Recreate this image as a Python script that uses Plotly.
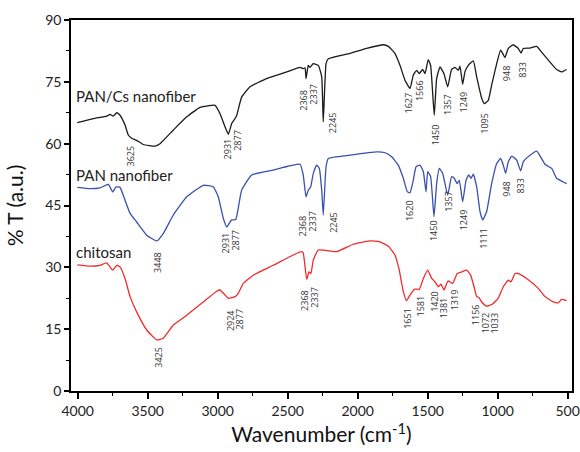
import plotly.graph_objects as go

# ---------------- data ----------------
pancs_wn = [4003, 3889, 3793, 3769, 3746, 3721, 3698, 3662, 3639, 3614, 3579, 3531, 3448, 3412,
            3317, 3221, 3126, 3019, 2984, 2948, 2924, 2900, 2876, 2864, 2829, 2769, 2650, 2507,
            2412, 2389, 2376, 2369, 2353, 2341, 2317, 2281, 2257, 2246, 2226, 2210, 2055, 1936,
            1817, 1781, 1734, 1698, 1662, 1626, 1603, 1579, 1560, 1536, 1519, 1496, 1479, 1453,
            1436, 1412, 1384, 1357, 1329, 1305, 1281, 1269, 1250, 1234, 1210, 1174, 1150, 1114,
            1095, 1067, 1043, 1007, 979, 964, 948, 924, 889, 853, 833, 817, 769, 721, 686, 626,
            579, 543, 507]
pancs_t = [65.1, 66.1, 66.7, 67.1, 66.7, 67.5, 66.9, 64.5, 62.1, 61.3, 60.8, 59.8, 59.4, 60.0,
           63.3, 66.5, 68.8, 69.3, 67.3, 64.1, 62.3, 64.9, 66.1, 66.9, 71.3, 73.8, 75.8, 77.4,
           78.5, 78.2, 78.4, 75.8, 79.0, 78.5, 79.4, 79.0, 76.2, 65.3, 79.4, 80.6, 81.9, 83.1,
           84.0, 83.6, 81.9, 79.0, 75.4, 73.4, 76.6, 77.8, 77.0, 78.0, 77.0, 80.4, 79.0, 66.9,
           75.8, 78.6, 77.0, 73.8, 78.0, 78.5, 77.8, 78.8, 74.4, 77.4, 79.0, 80.1, 76.2, 71.0,
           69.7, 70.5, 74.2, 79.4, 82.7, 81.9, 80.9, 83.1, 84.0, 83.1, 82.0, 83.1, 83.2, 83.6,
           82.2, 79.8, 78.0, 77.4, 78.0]

pan_wn = [4003, 3912, 3841, 3781, 3750, 3726, 3698, 3662, 3626, 3579, 3507, 3436, 3389, 3317,
          3221, 3103, 3031, 2996, 2960, 2936, 2900, 2871, 2829, 2757, 2603, 2412, 2389, 2369,
          2353, 2336, 2317, 2293, 2274, 2257, 2246, 2226, 2210, 2055, 1864, 1804, 1757, 1710,
          1674, 1645, 1626, 1603, 1583, 1555, 1531, 1512, 1500, 1479, 1455, 1436, 1417, 1393,
          1357, 1329, 1310, 1289, 1274, 1250, 1226, 1207, 1190, 1174, 1150, 1126, 1107, 1079,
          1043, 1007, 979, 960, 943, 924, 900, 864, 836, 817, 769, 721, 693, 662, 614, 579,
          531, 507]
pan_t = [49.4, 49.1, 49.3, 50.1, 48.3, 49.5, 49.4, 46.3, 43.1, 41.0, 37.8, 36.4, 38.2, 42.7,
         47.1, 49.9, 49.5, 47.1, 41.9, 39.8, 41.5, 41.6, 48.7, 52.4, 53.6, 55.0, 52.4, 47.1,
         48.7, 49.5, 52.8, 54.8, 54.0, 48.7, 42.7, 54.4, 56.4, 57.2, 58.0, 57.8, 56.8, 54.8,
         51.6, 48.3, 48.1, 51.1, 54.4, 54.8, 53.2, 48.3, 53.2, 52.0, 42.3, 50.3, 54.0, 52.8,
         47.5, 52.0, 51.6, 50.3, 51.1, 45.9, 51.1, 52.4, 51.6, 52.6, 49.5, 43.5, 41.5, 43.5,
         50.3, 55.2, 56.4, 54.8, 52.8, 55.6, 57.0, 56.0, 53.4, 55.6, 57.2, 58.2, 56.8, 55.0,
         54.0, 51.6, 50.7, 50.3]

chi_wn = [4003, 3912, 3841, 3793, 3750, 3721, 3698, 3662, 3626, 3579, 3507, 3436, 3389, 3317,
          3221, 3103, 3007, 2984, 2948, 2924, 2876, 2853, 2817, 2746, 2603, 2460, 2400, 2389,
          2364, 2348, 2334, 2317, 2281, 2150, 2031, 1912, 1841, 1781, 1734, 1703, 1674, 1651,
          1626, 1591, 1560, 1531, 1500, 1471, 1448, 1424, 1405, 1384, 1354, 1321, 1289, 1257,
          1221, 1193, 1169, 1150, 1134, 1114, 1079, 1036, 996, 960, 924, 905, 876, 853, 793,
          710, 662, 602, 567, 543, 507]
chi_t = [30.6, 30.3, 30.5, 31.1, 29.3, 30.5, 30.1, 27.3, 22.9, 19.2, 14.8, 12.4, 12.8, 16.0,
         18.4, 21.6, 24.2, 24.5, 23.3, 22.5, 22.9, 23.7, 26.1, 28.1, 30.5, 33.0, 33.8, 33.5,
         27.1, 28.9, 28.5, 31.8, 34.2, 33.8, 35.6, 36.4, 36.2, 35.1, 33.0, 29.3, 24.1, 21.9,
         23.3, 24.7, 24.7, 27.3, 29.3, 27.3, 26.5, 25.3, 25.9, 24.5, 26.7, 26.1, 28.5, 28.9,
         29.3, 28.1, 25.3, 22.9, 22.7, 21.6, 20.6, 21.1, 22.5, 25.3, 26.9, 26.5, 28.5, 28.5,
         27.3, 24.9, 22.9, 21.6, 21.4, 22.2, 21.9]

# peak labels: (text, wavenumber position, top of label in %T)
pancs_peaks = ["3625", "2931", "2877", "2368", "2337", "2245", "1627", "1566", "1450",
               "1357", "1249", "1095", "948", "833"]
pancs_pk_x = [3621, 2929, 2860, 2393, 2317, 2181, 1634, 1562, 1448, 1357, 1246, 1091, 941, 821]
pancs_pk_y = [60.1, 61.8, 63.8, 73.6, 75.0, 68.1, 73.0, 75.8, 65.3, 72.6, 73.1, 68.1, 79.4, 80.2]

pan_peaks = ["3448", "2931", "2877", "2368", "2337", "2245", "1620", "1450", "1357",
             "1249", "1111", "948", "833"]
pan_pk_x = [3431, 2943, 2871, 2393, 2321, 2174, 1626, 1453, 1357, 1246, 1103, 943, 833]
pan_pk_y = [34.2, 39.0, 39.7, 43.1, 44.3, 43.9, 46.7, 41.9, 49.1, 44.5, 40.0, 51.3, 51.9]

chi_peaks = ["3425", "2924", "2877", "2368", "2337", "1651", "1581", "1420", "1381",
             "1319", "1156", "1072", "1033"]
chi_pk_x = [3424, 2912, 2841, 2376, 2305, 1646, 1550, 1448, 1384, 1310, 1157, 1086, 1019]
chi_pk_y = [11.2, 20.0, 20.6, 24.9, 25.9, 20.6, 23.7, 24.9, 23.3, 25.1, 21.6, 19.6, 19.4]

series_names = ["PAN/Cs nanofiber", "PAN nanofiber", "chitosan"]
series_label_y = [71.5, 52.5, 33.8]
series_colors = ["#1a1a1a", "#3b4fae", "#f22a2a"]

x_tickvals = [4000, 3500, 3000, 2500, 2000, 1500, 1000, 500]
y_tickvals = [0, 15, 30, 45, 60, 75, 90]

# ---------------- figure ----------------
fig = go.Figure()
for wn, t, c in [(pancs_wn, pancs_t, series_colors[0]),
                 (pan_wn, pan_t, series_colors[1]),
                 (chi_wn, chi_t, series_colors[2])]:
    fig.add_trace(go.Scatter(x=wn, y=t, mode="lines",
                             line=dict(color=c, width=1.3, shape="spline", smoothing=0.4),
                             showlegend=False, hoverinfo="skip"))

annotations = []
for names, xs, ys in [(pancs_peaks, pancs_pk_x, pancs_pk_y),
                      (pan_peaks, pan_pk_x, pan_pk_y),
                      (chi_peaks, chi_pk_x, chi_pk_y)]:
    for n, x, y in zip(names, xs, ys):
        annotations.append(dict(x=x, y=y, xref="x", yref="y", text=n, showarrow=False,
                                textangle=-90, xanchor="center", yanchor="top",
                                font=dict(family="Open Sans", size=9, color="#333333")))

for name, y in zip(series_names, series_label_y):
    annotations.append(dict(x=4025, y=y, xref="x", yref="y", text=name, showarrow=False,
                            xanchor="left", yanchor="middle",
                            font=dict(family="Lato", size=15, color="#222222")))

fig.update_layout(
    width=580, height=452,
    margin=dict(l=71, r=8, t=20, b=61, autoexpand=False),
    paper_bgcolor="white", plot_bgcolor="white",
    annotations=annotations,
    font=dict(family="Lato", color="#222222"),
)
fig.update_xaxes(
    automargin=False, ticklabeloverflow="allow",
    range=[4048, 469], tickvals=x_tickvals, ticks="outside", ticklen=6, tickwidth=1.5,
    tickcolor="black", showline=True, linecolor="black", linewidth=1.5, mirror=True,
    showgrid=False, zeroline=False,
    minor=dict(dtick=250, tick0=0, ticks="outside", ticklen=3, tickwidth=1.2, tickcolor="black"),
    tickfont=dict(family="Lato", size=14, color="#222222"),
    title=dict(text="Wavenumber (cm<sup>-1</sup>)", font=dict(family="Lato", size=21, color="#111111"),
               standoff=7),
)
fig.update_yaxes(
    automargin=False, ticklabeloverflow="allow",
    range=[0, 90], tickvals=y_tickvals, ticks="outside", ticklen=5, tickwidth=1.5,
    tickcolor="black", showline=True, linecolor="black", linewidth=1.5, mirror=True,
    showgrid=False, zeroline=False,
    minor=dict(dtick=7.5, tick0=0, ticks="outside", ticklen=3, tickwidth=1.2, tickcolor="black"),
    tickfont=dict(family="Lato", size=14, color="#222222"),
    title=dict(text="% T (a.u.)", font=dict(family="Lato", size=21, color="#111111"), standoff=16),
)

# remove the browser's default 8px body margin so the figure fills the window exactly
fig.write_html(
    "out.html",
    config={"displayModeBar": False},
    post_script="document.body.style.margin='0';"
                "document.documentElement.style.overflow='hidden';",
)
